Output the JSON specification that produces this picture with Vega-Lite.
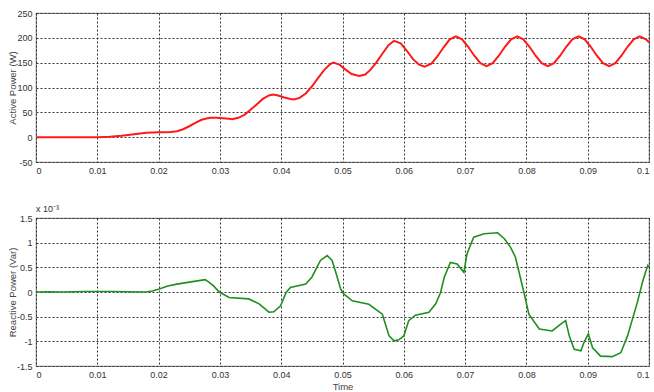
{
  "$schema": "https://vega.github.io/schema/vega-lite/v6.json",
  "background": "white",
  "padding": {"left": 6, "top": 8, "right": 0, "bottom": 0},
  "config": {
    "font": "Liberation Sans",
    "view": {"stroke": "#8a8a8a", "strokeWidth": 1.2},
    "axis": {
      "domain": false,
      "ticks": false,
      "labelFontSize": 9,
      "labelColor": "#333333",
      "labelPadding": 4,
      "titleFontSize": 9.5,
      "titleFontWeight": "normal",
      "titleColor": "#444444",
      "grid": true,
      "gridColor": "#222222",
      "gridDash": [2, 2],
      "gridWidth": 1,
      "gridOpacity": 0.9
    },
    "concat": {"spacing": 28}
  },
  "datasets": {
    "p": [
      {"t": 0, "v": 0}, {"t": 0.005, "v": 0}, {"t": 0.01, "v": 0}, {"t": 0.011, "v": 0.5}, {"t": 0.012, "v": 1},
      {"t": 0.013, "v": 2}, {"t": 0.014, "v": 3}, {"t": 0.015, "v": 4.5}, {"t": 0.016, "v": 6}, {"t": 0.017, "v": 7.5},
      {"t": 0.018, "v": 9}, {"t": 0.019, "v": 9.5}, {"t": 0.02, "v": 10}, {"t": 0.021, "v": 10}, {"t": 0.022, "v": 10.5},
      {"t": 0.023, "v": 12}, {"t": 0.024, "v": 16}, {"t": 0.025, "v": 22}, {"t": 0.026, "v": 29}, {"t": 0.027, "v": 35},
      {"t": 0.028, "v": 38}, {"t": 0.0285, "v": 39}, {"t": 0.0295, "v": 39}, {"t": 0.0305, "v": 38}, {"t": 0.0315, "v": 37},
      {"t": 0.032, "v": 36}, {"t": 0.033, "v": 39}, {"t": 0.034, "v": 45}, {"t": 0.035, "v": 55}, {"t": 0.036, "v": 66},
      {"t": 0.037, "v": 77}, {"t": 0.038, "v": 84}, {"t": 0.0387, "v": 86}, {"t": 0.0395, "v": 84}, {"t": 0.0405, "v": 80},
      {"t": 0.0415, "v": 77}, {"t": 0.0421, "v": 76}, {"t": 0.043, "v": 79}, {"t": 0.044, "v": 88}, {"t": 0.045, "v": 102},
      {"t": 0.046, "v": 119}, {"t": 0.047, "v": 135}, {"t": 0.048, "v": 147}, {"t": 0.0485, "v": 150}, {"t": 0.0495, "v": 146},
      {"t": 0.0505, "v": 136}, {"t": 0.0515, "v": 127}, {"t": 0.0527, "v": 123}, {"t": 0.0537, "v": 126}, {"t": 0.0545, "v": 135},
      {"t": 0.0555, "v": 150}, {"t": 0.0565, "v": 168}, {"t": 0.0575, "v": 185}, {"t": 0.0584, "v": 194}, {"t": 0.0595, "v": 189},
      {"t": 0.0605, "v": 174}, {"t": 0.0615, "v": 157}, {"t": 0.0625, "v": 146}, {"t": 0.0634, "v": 142}, {"t": 0.0645, "v": 148},
      {"t": 0.0655, "v": 163}, {"t": 0.0665, "v": 181}, {"t": 0.0675, "v": 197}, {"t": 0.0685, "v": 203}, {"t": 0.0695, "v": 197},
      {"t": 0.0705, "v": 182}, {"t": 0.0715, "v": 164}, {"t": 0.0725, "v": 149}, {"t": 0.0735, "v": 143}, {"t": 0.0745, "v": 149},
      {"t": 0.0755, "v": 164}, {"t": 0.0765, "v": 182}, {"t": 0.0775, "v": 197}, {"t": 0.0785, "v": 203}, {"t": 0.0795, "v": 197},
      {"t": 0.0805, "v": 182}, {"t": 0.0815, "v": 164}, {"t": 0.0825, "v": 149}, {"t": 0.0835, "v": 143}, {"t": 0.0845, "v": 149},
      {"t": 0.0855, "v": 164}, {"t": 0.0865, "v": 182}, {"t": 0.0875, "v": 197}, {"t": 0.0885, "v": 203}, {"t": 0.0895, "v": 197},
      {"t": 0.0905, "v": 182}, {"t": 0.0915, "v": 164}, {"t": 0.0925, "v": 149}, {"t": 0.0935, "v": 143}, {"t": 0.0945, "v": 149},
      {"t": 0.0955, "v": 164}, {"t": 0.0965, "v": 182}, {"t": 0.0975, "v": 197}, {"t": 0.0985, "v": 203}, {"t": 0.0995, "v": 197},
      {"t": 0.1, "v": 191}
    ],
    "q": [
      {"t": 0, "v": 0}, {"t": 0.002, "v": 0.005}, {"t": 0.004, "v": 0}, {"t": 0.008, "v": 0.01}, {"t": 0.012, "v": 0.01},
      {"t": 0.015, "v": 0.005}, {"t": 0.018, "v": 0}, {"t": 0.019, "v": 0.02}, {"t": 0.0201, "v": 0.06}, {"t": 0.0215, "v": 0.12},
      {"t": 0.023, "v": 0.16}, {"t": 0.025, "v": 0.2}, {"t": 0.0266, "v": 0.23}, {"t": 0.0276, "v": 0.25}, {"t": 0.0282, "v": 0.2},
      {"t": 0.029, "v": 0.12}, {"t": 0.0299, "v": 0.0}, {"t": 0.0315, "v": -0.11}, {"t": 0.0347, "v": -0.14}, {"t": 0.0364, "v": -0.24},
      {"t": 0.038, "v": -0.41}, {"t": 0.0388, "v": -0.4}, {"t": 0.0399, "v": -0.28}, {"t": 0.0408, "v": -0.01}, {"t": 0.0415, "v": 0.09},
      {"t": 0.044, "v": 0.16}, {"t": 0.045, "v": 0.3}, {"t": 0.0464, "v": 0.64}, {"t": 0.0475, "v": 0.74}, {"t": 0.0483, "v": 0.64},
      {"t": 0.0489, "v": 0.4}, {"t": 0.0497, "v": 0.06}, {"t": 0.0502, "v": -0.04}, {"t": 0.0516, "v": -0.18}, {"t": 0.0543, "v": -0.25},
      {"t": 0.0565, "v": -0.45}, {"t": 0.0576, "v": -0.89}, {"t": 0.0584, "v": -0.99}, {"t": 0.0592, "v": -0.97}, {"t": 0.06, "v": -0.89},
      {"t": 0.0608, "v": -0.58}, {"t": 0.0619, "v": -0.47}, {"t": 0.0641, "v": -0.41}, {"t": 0.0652, "v": -0.24}, {"t": 0.066, "v": -0.01},
      {"t": 0.0666, "v": 0.3}, {"t": 0.0676, "v": 0.6}, {"t": 0.0687, "v": 0.57}, {"t": 0.0698, "v": 0.4}, {"t": 0.0703, "v": 0.77},
      {"t": 0.0714, "v": 1.11}, {"t": 0.0731, "v": 1.18}, {"t": 0.0753, "v": 1.2}, {"t": 0.0764, "v": 1.08}, {"t": 0.0774, "v": 0.91},
      {"t": 0.0782, "v": 0.71}, {"t": 0.0788, "v": 0.4}, {"t": 0.0796, "v": -0.01}, {"t": 0.0804, "v": -0.45}, {"t": 0.0821, "v": -0.75},
      {"t": 0.0842, "v": -0.79}, {"t": 0.0856, "v": -0.65}, {"t": 0.0864, "v": -0.58}, {"t": 0.087, "v": -0.89}, {"t": 0.0878, "v": -1.16},
      {"t": 0.0889, "v": -1.19}, {"t": 0.0894, "v": -1.02}, {"t": 0.0901, "v": -0.85}, {"t": 0.0908, "v": -1.13}, {"t": 0.0921, "v": -1.3},
      {"t": 0.094, "v": -1.31}, {"t": 0.0954, "v": -1.23}, {"t": 0.0965, "v": -0.89}, {"t": 0.0973, "v": -0.55}, {"t": 0.0981, "v": -0.21},
      {"t": 0.099, "v": 0.23}, {"t": 0.0998, "v": 0.54}, {"t": 0.1, "v": 0.52}
    ]
  },
  "vconcat": [
    {
      "width": 613,
      "height": 149,
      "data": {"name": "p"},
      "mark": {"type": "line", "color": "#ff1a1a", "strokeWidth": 2},
      "encoding": {
        "x": {
          "field": "t", "type": "quantitative",
          "scale": {"domain": [0, 0.1], "nice": false},
          "axis": {"title": null, "values": [0, 0.01, 0.02, 0.03, 0.04, 0.05, 0.06, 0.07, 0.08, 0.09, 0.1], "format": "~g"}
        },
        "y": {
          "field": "v", "type": "quantitative",
          "scale": {"domain": [-50, 250], "nice": false},
          "axis": {"title": "Active Power (W)", "values": [-50, 0, 50, 100, 150, 200, 250], "labelExpr": "replace(datum.label, '−', '-')", "minExtent": 19, "maxExtent": 19, "titlePadding": 0}
        }
      }
    },
    {
      "width": 613,
      "height": 148,
      "title": {"text": "x 10⁻³", "anchor": "start", "frame": "group", "fontSize": 9, "fontWeight": "normal", "color": "#333333", "offset": 0},
      "data": {"name": "q"},
      "mark": {"type": "line", "color": "#1f8f1f", "strokeWidth": 1.6},
      "encoding": {
        "x": {
          "field": "t", "type": "quantitative",
          "scale": {"domain": [0, 0.1], "nice": false},
          "axis": {"title": "Time", "values": [0, 0.01, 0.02, 0.03, 0.04, 0.05, 0.06, 0.07, 0.08, 0.09, 0.1], "format": "~g", "titlePadding": 2}
        },
        "y": {
          "field": "v", "type": "quantitative",
          "scale": {"domain": [-1.5, 1.5], "nice": false},
          "axis": {"title": "Reactive Power (Var)", "values": [-1.5, -1, -0.5, 0, 0.5, 1, 1.5], "format": "~g", "labelExpr": "replace(datum.label, '−', '-')", "minExtent": 19, "maxExtent": 19, "titlePadding": 0}
        }
      }
    }
  ]
}
